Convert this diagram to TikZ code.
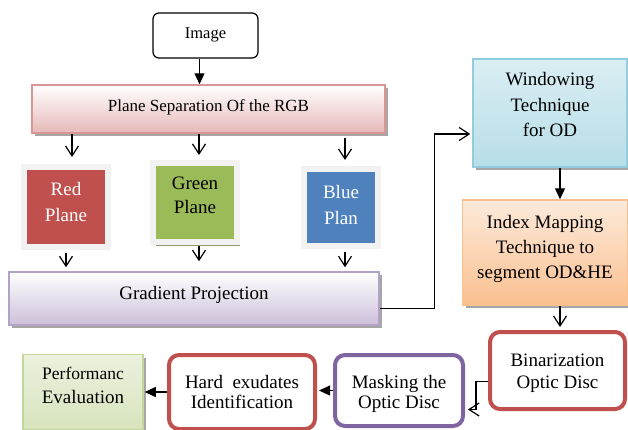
\documentclass[tikz,border=0pt]{standalone}
\usepackage{fontspec}
\setmainfont{Liberation Serif}
\usetikzlibrary{arrows.meta,shadows}

\definecolor{planered}{HTML}{C0504D}
\definecolor{planegreen}{HTML}{9BBB59}
\definecolor{planeblue}{HTML}{4F81BD}
\definecolor{maskpurple}{HTML}{8064A2}
\definecolor{pinkbot}{HTML}{E6B9B8}
\definecolor{pinkline}{HTML}{D99694}
\definecolor{lilacbot}{HTML}{CCC0DA}
\definecolor{lilacline}{HTML}{B3A2C7}
\definecolor{aquatop}{HTML}{DAEEF3}
\definecolor{aquabot}{HTML}{B7DEE8}
\definecolor{aqualine}{HTML}{93CDDD}
\definecolor{peachtop}{HTML}{FDEADA}
\definecolor{peachbot}{HTML}{FAC090}
\definecolor{limetop}{HTML}{EBF1DE}
\definecolor{limebot}{HTML}{D7E4BD}
\definecolor{limeline}{HTML}{C3D69B}

\tikzset{
	box/.style={align=center, inner sep=2pt, text depth=5pt, font=\fontsize{19}{25.5}\selectfont},
	startbox/.style={box, draw=black, line width=1.2pt, rounded corners=6pt, fill=white, font=\fontsize{16.5}{22}\selectfont},
	shadebox/.style={box, line width=1.5pt, drop shadow={shadow xshift=3pt, shadow yshift=-3pt, fill=black!35, opacity=1}},
	plane/.style={box, draw=black!5, line width=6pt},
	roundbox/.style={box, draw=planered, fill=white, line width=4pt, rounded corners=10pt},
	solidtip/.style={line width=1.2pt, -{Triangle[width=10pt,length=11pt]}},
	opentip/.style={line width=1.2pt, -{Straight Barb[width=13pt,length=10pt]}}
}

\begin{document}
\begin{tikzpicture}[x=1pt, y=-1pt]
	\useasboundingbox (0,0) rectangle (628,429);

	% Define nodes at pixel positions
	\node[startbox, minimum width=105, minimum height=45] (image) at (205.5,35.5) {Image};
	\node[shadebox, draw=pinkline, top color=white, bottom color=pinkbot, minimum width=353, minimum height=48, text height=10pt, font=\fontsize{17}{22}\selectfont] (rgb) at (208.5,109) {Plane Separation Of the RGB};

	\node[plane, fill=planered, text=white, minimum width=84, minimum height=80, text height=33pt, drop shadow={shadow xshift=3pt, shadow yshift=-3pt, fill=planered!45!gray, opacity=1}] (red) at (66,207) {Red\\Plane};
	\node[plane, fill=planegreen, text=black, minimum width=84, minimum height=79, text height=27pt, font=\fontsize{19}{24}\selectfont, drop shadow={shadow xshift=3pt, shadow yshift=-4pt, fill=planegreen!45!gray, opacity=1}] (green) at (195,202.5) {Green\\Plane};
	\node[plane, fill=planeblue, text=white, minimum width=74, minimum height=77, text height=38pt, drop shadow={shadow xshift=3pt, shadow yshift=-3pt, fill=planeblue!35!gray, opacity=1}] (blue) at (341,207.5) {Blue\\Plan};

	\node[shadebox, draw=lilacline, top color=white, bottom color=lilacbot, minimum width=370, minimum height=53, text height=10pt, text depth=8pt] (grad) at (194,298.5) {Gradient Projection};

	\node[shadebox, draw=aqualine, top color=aquatop, bottom color=aquabot, minimum width=154, minimum height=108, text height=52pt] (win) at (550,113) {Windowing\\Technique\\for OD};
	\node[shadebox, draw=peachbot, top color=peachtop, bottom color=peachbot, minimum width=165, minimum height=105, text height=57pt, font=\fontsize{19}{25}\selectfont] (idx) at (545,252.5) {Index Mapping\\Technique to\\segment OD\&HE};

	\node[roundbox, minimum width=135, minimum height=77, text height=41pt, font=\fontsize{19}{22}\selectfont] (bin) at (557.5,370.5) {Binarization\\Optic Disc};
	\node[roundbox, draw=maskpurple, minimum width=128, minimum height=71, text height=41pt, font=\fontsize{19}{20}\selectfont] (mask) at (399,390.5) {Masking the\\Optic Disc};
	\node[roundbox, minimum width=146, minimum height=74, text height=38pt, font=\fontsize{19}{20}\selectfont] (hard) at (242,392) {Hard~~exudates\\Identification};
	\node[shadebox, draw=limeline, top color=limetop, bottom color=limebot, minimum width=120, minimum height=75, text height=28pt, font=\fontsize{19}{24}\selectfont] (perf) at (83,392) {{\fontsize{17.5}{24}\selectfont Performanc}\\Evaluation};

	% Draw connectors between the steps
	\draw[solidtip] ([xshift=-6pt]image.south) -- ([xshift=-6pt]image.south |- rgb.north);

	\draw[opentip] ([xshift=6pt]red.north |- rgb.south) -- ([xshift=6pt,yshift=7pt]red.north);
	\draw[opentip] ([xshift=4pt]green.north |- rgb.south) -- ([xshift=4pt,yshift=5pt]green.north);
	\draw[opentip] ([xshift=4pt,yshift=-4pt]blue.north |- rgb.south) -- ([xshift=4pt,yshift=6pt]blue.north);

	\draw[opentip, shorten >=4pt] ([yshift=-3pt]red.south) -- (red.south |- grad.north);
	\draw[opentip, shorten >=10pt] ([xshift=4pt,yshift=-1pt]green.south) -- ([xshift=4pt]green.south |- grad.north);
	\draw[opentip, shorten >=4pt] ([xshift=4pt,yshift=-3pt]blue.south) -- ([xshift=4pt]blue.south |- grad.north);

	\draw[opentip, shorten >=2pt] ([yshift=-10pt]grad.east) -- ++(55,0) |- ([yshift=-21pt]win.west);
	\draw[solidtip] ([xshift=10pt]win.south) -- ([xshift=10pt]win.south |- idx.north);
	\draw[opentip, shorten >=3pt] ([xshift=15pt]idx.south) -- ([xshift=15pt]idx.south |- bin.north);
	\draw[opentip, shorten >=3pt] ([yshift=-11pt]bin.west) -- ++(-12,0) |- ([yshift=-19pt]mask.east);
	\draw[solidtip, shorten >=2pt] (mask.west) -- (mask.west -| hard.east);
	\draw[solidtip, shorten >=1pt] (hard.west) -- (hard.west -| perf.east);

\end{tikzpicture}
\end{document}
